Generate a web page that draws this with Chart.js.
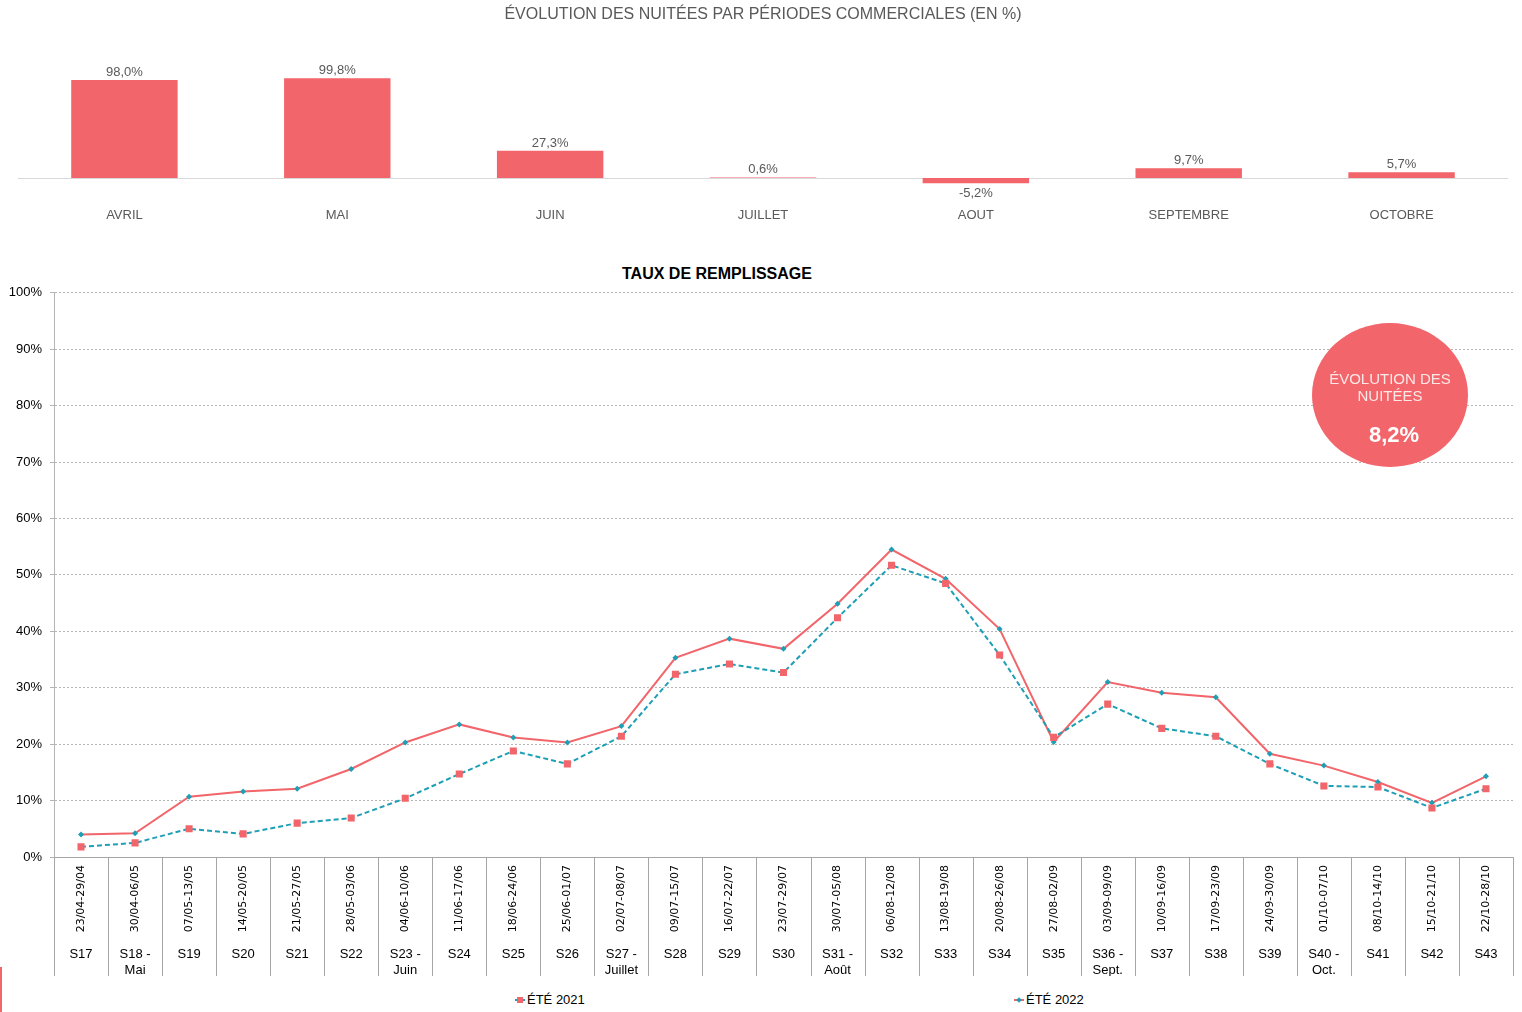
<!DOCTYPE html>
<html lang="fr">
<head>
<meta charset="utf-8">
<title>Évolution des nuitées</title>
<script src="https://cdn.jsdelivr.net/npm/chart.js@4.4.1/dist/chart.umd.min.js"></script>
<style>
  body { margin: 0; background: #fff; font-family: "Liberation Sans", Arial, sans-serif; }
  #page { position: relative; width: 1522px; height: 1012px; overflow: hidden; }
  .box { position: absolute; left: 0; width: 1522px; }
  #titre-taux { position: absolute; top: 265px; left: 517px; width: 400px; text-align: center;
    font-weight: bold; font-size: 16px; color: #000; line-height: 18px; }
  #bulle { position: absolute; left: 1312px; top: 323px; width: 156px; height: 144px; border-radius: 50%;
    background: #f2656a; color: #fde8e8; text-align: center; }
  #bulle .lib { position: absolute; top: 47px; left: 0; width: 100%; font-size: 15px; line-height: 17px; }
  #bulle .val { position: absolute; top: 99px; left: 4px; width: 100%; font-size: 22px; font-weight: bold; color: #fff; }
  .leg { position: absolute; top: 992px; font-size: 13px; color: #000; line-height: 16px; }
  .mk { display: inline-block; position: relative; width: 10px; height: 16px; vertical-align: top; margin-right: 2px; }
  .mk .ln { position: absolute; left: 0; top: 7px; width: 10px; height: 2px; }
  .mk .pt { position: absolute; }
  #trait { position: absolute; left: 0; top: 967px; width: 2px; height: 45px; background: #f2656a; }
</style>
</head>
<body>
<div id="page">
  <div class="box" style="top:0;height:230px"><canvas id="chart-periodes"></canvas></div>
  <div id="titre-taux">TAUX DE REMPLISSAGE</div>
  <div class="box" style="top:277px;height:703px"><canvas id="chart-remplissage"></canvas></div>
  <div id="bulle"><div class="lib">ÉVOLUTION DES<br>NUITÉES</div><div class="val" id="bulle-val"></div></div>
  <div class="leg" style="left:515px">
    <span class="mk"><span class="ln" style="background:#1e9fb5"></span><span class="pt" style="left:2px;top:5px;width:6px;height:6px;background:#f2656a"></span></span>ÉTÉ 2021
  </div>
  <div class="leg" style="left:1014px">
    <span class="mk"><span class="ln" style="background:#f2656a"></span><span class="pt" style="left:3px;top:6px;width:4px;height:4px;background:#1e9fb5;transform:rotate(45deg)"></span></span>ÉTÉ 2022
  </div>
  <div id="trait"></div>
</div>

<script>
// --- données ---
const periodes = ['AVRIL', 'MAI', 'JUIN', 'JUILLET', 'AOUT', 'SEPTEMBRE', 'OCTOBRE'];
const evolutionPeriodes = [98.0, 99.8, 27.3, 0.6, -5.2, 9.7, 5.7];

const dates = ['23/04-29/04', '30/04-06/05', '07/05-13/05', '14/05-20/05', '21/05-27/05', '28/05-03/06',
  '04/06-10/06', '11/06-17/06', '18/06-24/06', '25/06-01/07', '02/07-08/07', '09/07-15/07', '16/07-22/07',
  '23/07-29/07', '30/07-05/08', '06/08-12/08', '13/08-19/08', '20/08-26/08', '27/08-02/09', '03/09-09/09',
  '10/09-16/09', '17/09-23/09', '24/09-30/09', '01/10-07/10', '08/10-14/10', '15/10-21/10', '22/10-28/10'];
const semaines = ['S17', ['S18 -', 'Mai'], 'S19', 'S20', 'S21', 'S22', ['S23 -', 'Juin'], 'S24', 'S25', 'S26',
  ['S27 -', 'Juillet'], 'S28', 'S29', 'S30', ['S31 -', 'Août'], 'S32', 'S33', 'S34', 'S35', ['S36 -', 'Sept.'],
  'S37', 'S38', 'S39', ['S40 -', 'Oct.'], 'S41', 'S42', 'S43'];
const ete2021 = [1.8, 2.5, 5.0, 4.1, 6.0, 6.9, 10.4, 14.7, 18.8, 16.5, 21.4, 32.4, 34.2, 32.7, 42.4, 51.7, 48.5,
  35.8, 21.2, 27.1, 22.8, 21.4, 16.5, 12.6, 12.4, 8.7, 12.1];
const ete2022 = [4.0, 4.2, 10.7, 11.6, 12.1, 15.6, 20.3, 23.5, 21.2, 20.3, 23.2, 35.3, 38.7, 36.9, 44.9, 54.5, 49.3,
  40.4, 20.4, 31.0, 29.1, 28.3, 18.3, 16.2, 13.3, 9.6, 14.3];
const evolutionNuitees = 8.2;

const ROUGE = '#f2656a';
const BLEU = '#1e9fb5';
const FONT = '"Liberation Sans", Arial, sans-serif';

const fmt = v => v.toFixed(1).replace('.', ',') + '%';
document.getElementById('bulle-val').textContent = fmt(evolutionNuitees);

// baseline + value labels for the top bars
const barLabels = {
  id: 'barLabels',
  beforeDatasetsDraw(chart) {
    const { ctx, chartArea, scales: { y } } = chart;
    const y0 = Math.round(y.getPixelForValue(0)) + 0.5;
    ctx.save();
    ctx.strokeStyle = '#d9d9d9';
    ctx.lineWidth = 1;
    ctx.beginPath();
    ctx.moveTo(chartArea.left, y0);
    ctx.lineTo(chartArea.right, y0);
    ctx.stroke();
    ctx.restore();
  },
  afterDatasetsDraw(chart) {
    const { ctx } = chart;
    const meta = chart.getDatasetMeta(0);
    ctx.save();
    ctx.font = '13px ' + FONT;
    ctx.fillStyle = '#595959';
    ctx.textAlign = 'center';
    meta.data.forEach((bar, i) => {
      const v = evolutionPeriodes[i];
      if (v >= 0) {
        ctx.textBaseline = 'bottom';
        ctx.fillText(fmt(v), bar.x, bar.y - 1);
      } else {
        ctx.textBaseline = 'top';
        ctx.fillText(fmt(v), bar.x, bar.y + 4);
      }
    });
    ctx.restore();
  }
};

new Chart(document.getElementById('chart-periodes'), {
  type: 'bar',
  data: {
    labels: periodes,
    datasets: [{
      data: evolutionPeriodes,
      backgroundColor: ROUGE,
      categoryPercentage: 1,
      barPercentage: 0.5
    }]
  },
  options: {
    responsive: true,
    maintainAspectRatio: false,
    animation: false,
    layout: { padding: { left: 18, right: 14, top: 0, bottom: 0 } },
    plugins: {
      legend: { display: false },
      tooltip: { enabled: false },
      title: {
        display: true,
        text: 'ÉVOLUTION DES NUITÉES PAR PÉRIODES COMMERCIALES (EN %)',
        color: '#595959',
        font: { family: FONT, size: 16, weight: 'normal' },
        padding: { top: 5, bottom: 13.8 }
      }
    },
    scales: {
      x: {
        grid: { display: false, drawTicks: false },
        border: { display: false },
        ticks: { color: '#595959', font: { family: FONT, size: 13 }, padding: 10 },
        afterFit: s => { s.height = 32; }
      },
      y: { display: false, min: -20, max: 140 }
    }
  },
  plugins: [barLabels]
});

// vertical separators under the week axis
const separateurs = {
  id: 'separateurs',
  afterDraw(chart) {
    const { ctx, scales: { x, x2 } } = chart;
    ctx.save();
    ctx.strokeStyle = '#a6a6a6';
    ctx.lineWidth = 1;
    ctx.beginPath();
    for (let i = 0; i <= dates.length; i++) {
      const px = Math.round(x.getPixelForValue(i - 0.5)) + 0.5;
      ctx.moveTo(px, x.top);
      ctx.lineTo(px, x2.bottom);
    }
    ctx.stroke();
    ctx.restore();
  }
};

new Chart(document.getElementById('chart-remplissage'), {
  type: 'line',
  data: {
    labels: dates,
    datasets: [
      {
        label: 'ÉTÉ 2021',
        data: ete2021,
        borderColor: BLEU,
        borderWidth: 2,
        borderDash: [5, 3],
        pointStyle: 'rect',
        pointRadius: 5,
        pointBorderWidth: 0,
        pointBackgroundColor: ROUGE,
        tension: 0
      },
      {
        label: 'ÉTÉ 2022',
        data: ete2022,
        borderColor: ROUGE,
        borderWidth: 2,
        pointStyle: 'rectRot',
        pointRadius: 3,
        pointBorderWidth: 0,
        pointBackgroundColor: BLEU,
        tension: 0
      }
    ]
  },
  options: {
    responsive: true,
    maintainAspectRatio: false,
    animation: false,
    layout: { padding: { left: 0, right: 9, top: 9, bottom: 4 } },
    plugins: {
      legend: { display: false },
      tooltip: { enabled: false }
    },
    scales: {
      x: {
        type: 'category',
        offset: true,
        weight: 0,
        grid: { display: false, drawTicks: false },
        border: { display: true, color: '#a6a6a6' },
        ticks: {
          autoSkip: false, minRotation: 90, maxRotation: 90, padding: 8,
          color: '#000', font: { family: '"DejaVu Sans", Verdana, sans-serif', size: 11 }
        },
        afterFit: s => { s.height = 85; }
      },
      x2: {
        type: 'category',
        labels: semaines,
        position: 'bottom',
        offset: true,
        weight: 1,
        grid: { display: false, drawTicks: false },
        border: { display: false },
        ticks: {
          autoSkip: false, maxRotation: 0, padding: 5,
          color: '#000', font: { family: FONT, size: 13 }
        },
        afterFit: s => { s.height = 34; }
      },
      y: {
        min: 0,
        max: 100,
        ticks: {
          stepSize: 10, padding: 8, color: '#000',
          font: { family: FONT, size: 13 },
          callback: v => v + '%'
        },
        grid: { color: '#b5b5b5', lineWidth: 1, tickLength: 4, tickColor: '#b5b5b5' },
        border: { color: '#b5b5b5', dash: [2, 2] },
        afterFit: s => { s.width = 54; }
      }
    }
  },
  plugins: [separateurs]
});
</script>
</body>
</html>
